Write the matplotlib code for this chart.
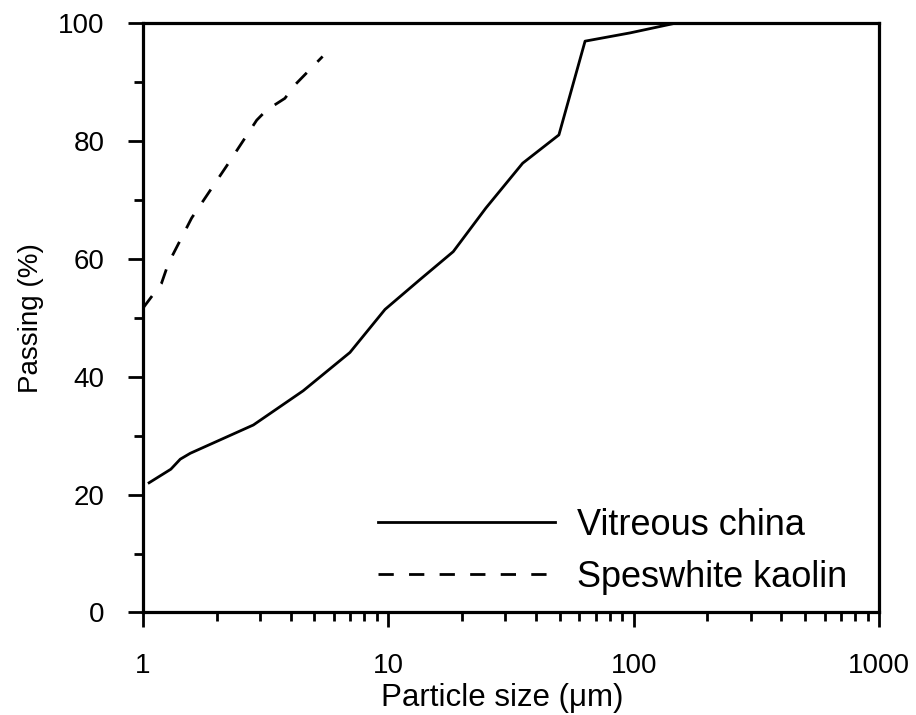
import numpy as np
import matplotlib.pyplot as plt
from matplotlib.ticker import LogLocator, FixedLocator, NullFormatter

plt.rcParams['font.family'] = ['Liberation Sans', 'DejaVu Sans']

# cumulative particle size distributions (size in um, % passing)
vc_size = [1.06, 1.30, 1.42, 1.56, 2.82, 4.5, 6.98, 9.7, 13.5, 18.4,
           25.0, 35.3, 49.6, 63.4, 96.7, 150.0]
vc_pass = [22.0, 24.3, 26.0, 27.0, 31.8, 37.6, 44.1, 51.4, 56.5, 61.2,
           68.6, 76.2, 81.0, 96.9, 98.3, 100.0]

kaolin_size = [1.0, 1.19, 1.27, 1.58, 2.2, 2.91, 3.19, 3.79, 4.17, 5.40]
kaolin_pass = [51.6, 55.8, 59.2, 66.9, 75.8, 83.5, 85.2, 87.2, 89.5, 94.3]

labels = ['Vitreous china', 'Speswhite kaolin']
x_ticks = [1, 10, 100, 1000]
y_ticks = [0, 20, 40, 60, 80, 100]

fig = plt.figure(figsize=(9.16, 7.15), dpi=100)
ax = fig.add_axes([0.156, 0.1434, 0.8036, 0.8246])

ax.plot(vc_size, vc_pass, color='black', lw=2.0, label=labels[0])
ax.plot(kaolin_size, kaolin_pass, color='black', lw=2.0, label=labels[1],
        dashes=(5.5, 5.5))

ax.set_xscale('log')
ax.set_xlim(1, 1000)
ax.set_ylim(0, 100)

ax.xaxis.set_major_locator(FixedLocator(x_ticks))
ax.set_xticklabels([str(v) for v in x_ticks])
ax.xaxis.set_minor_locator(LogLocator(base=10, subs=np.arange(2, 10)))
ax.xaxis.set_minor_formatter(NullFormatter())
ax.set_yticks(y_ticks)
ax.yaxis.set_minor_locator(FixedLocator([10, 30, 50, 70, 90]))

for side in ['top', 'right', 'left', 'bottom']:
    ax.spines[side].set_linewidth(2.3)

ax.tick_params(which='major', direction='out', length=11, width=2.0,
               labelsize=20, top=False, right=False)
ax.tick_params(which='minor', direction='out', length=6.5, width=2.0,
               top=False, right=False)
ax.tick_params(axis='x', which='major', pad=18)
ax.tick_params(axis='y', which='major', pad=16.5)

ax.set_xlabel('Particle size (\u03bcm)', fontsize=22.5)
ax.xaxis.set_label_coords(0.488, -0.12)
ax.xaxis.label.set_va('top')
ax.set_ylabel('Passing (%)', fontsize=20, labelpad=10)

ax.legend(loc='lower right', bbox_to_anchor=(1.001, -0.025), frameon=False,
          fontsize=26, handlelength=4.9, handletextpad=0.6,
          labelspacing=0.47)

fig.savefig('out.png', dpi=100, facecolor='white')
